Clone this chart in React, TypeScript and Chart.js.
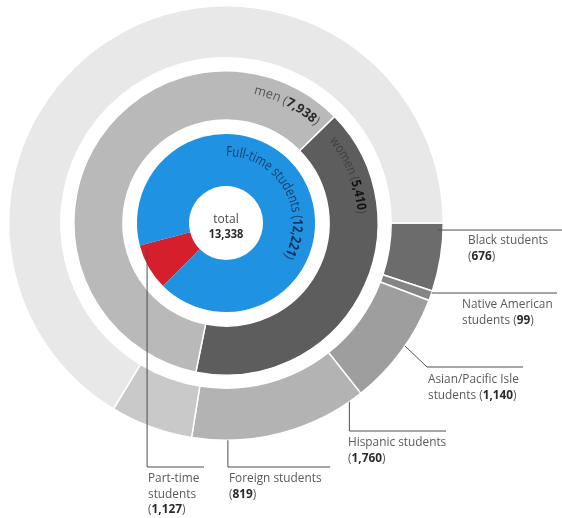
import React, { useEffect, useRef } from 'react';
import { Chart, registerables } from 'chart.js';

Chart.register(...registerables);

// ---------- data ----------
const totalStudents = 13338;
const statusLabels = ['Part-time students', 'Full-time students'];
const statusValues = [1127, 12221];
const genderLabels = ['women', 'men'];
const genderValues = [5410, 7938];
const groupLabels = [
  'Black students',
  'Native American students',
  'Asian/Pacific Isle students',
  'Hispanic students',
  'Foreign students',
  'Other students',
];
const groupValues = [676, 99, 1140, 1760, 819, 8854];

// ---------- styles ----------
const statusColors = ['#d61f2c', '#1f93e2'];
const genderColors = ['#5d5d5d', '#b9b9b9'];
const groupColors = ['#6c6c6c', '#858585', '#9e9e9e', '#b3b3b3', '#c9c9c9', '#e8e8e8'];
const FONT = '"Open Sans", "Noto Sans", sans-serif';
const LABEL_COLOR = '#5a5a5a';
const NUM_COLOR = '#2a2a2a';
const LINE_COLOR = '#4d4d4d';

const fmt = (v: number) => v.toLocaleString('en-US');
const f = (size: number, bold?: boolean) => `${bold ? 700 : 400} ${size}px ${FONT}`;

type Run = { t: string; b?: boolean; c?: string };
const numRuns = (v: number, c?: string): Run[] => [
  { t: '(', c },
  { t: fmt(v), b: true, c },
  { t: ')', c },
];

function drawArcText(
  ctx: CanvasRenderingContext2D,
  cx: number,
  cy: number,
  r: number,
  a0deg: number,
  a1deg: number,
  runs: Run[],
  size: number,
  defColor: string,
  boldColor: string
) {
  const a0 = (a0deg * Math.PI) / 180;
  const a1 = (a1deg * Math.PI) / 180;
  let total = 0;
  for (const run of runs) {
    ctx.font = f(size, run.b);
    for (const ch of run.t) total += ctx.measureText(ch).width;
  }
  const sx = ((a1 - a0) * r) / total;
  let ang = a0;
  ctx.textAlign = 'center';
  ctx.textBaseline = 'alphabetic';
  for (const run of runs) {
    ctx.font = f(size, run.b);
    ctx.fillStyle = run.c || (run.b ? boldColor : defColor);
    for (const ch of run.t) {
      const w = ctx.measureText(ch).width * sx;
      const mid = ang + w / 2 / r;
      ctx.save();
      ctx.translate(cx + r * Math.cos(mid), cy + r * Math.sin(mid));
      ctx.rotate(mid + Math.PI / 2);
      ctx.scale(sx, 1);
      ctx.fillText(ch, 0, 0);
      ctx.restore();
      ang += w / r;
    }
  }
}

function drawRich(
  ctx: CanvasRenderingContext2D,
  x: number,
  y: number,
  runs: Run[],
  size: number,
  sx: number,
  align: 'left' | 'center' = 'left'
) {
  let width = 0;
  for (const run of runs) {
    ctx.font = f(size, run.b);
    width += ctx.measureText(run.t).width * sx;
  }
  let cx = align === 'center' ? x - width / 2 : x;
  ctx.textAlign = 'left';
  ctx.textBaseline = 'alphabetic';
  for (const run of runs) {
    ctx.font = f(size, run.b);
    ctx.fillStyle = run.c || (run.b ? NUM_COLOR : LABEL_COLOR);
    ctx.save();
    ctx.translate(cx, y);
    ctx.scale(sx, 1);
    ctx.fillText(run.t, 0, 0);
    ctx.restore();
    cx += ctx.measureText(run.t).width * sx;
  }
}

// callouts: anchor on a ring (dataset index, angle in degrees, inset from outer edge),
// then a path of horizontal / vertical / point moves, then text lines
type Step = { x?: number; y?: number };
const callouts: {
  ds: number;
  angle: number;
  inset: number;
  path: Step[];
  tx: number;
  ty: number;
  lines: Run[][];
}[] = [
  {
    ds: 0, angle: 1.9, inset: 5, path: [{ x: 562 }], tx: 468, ty: 244,
    lines: [[{ t: 'Black students' }], numRuns(groupValues[0])],
  },
  {
    ds: 0, angle: 18.8, inset: 0, path: [{ x: 557 }], tx: 462, ty: 308,
    lines: [[{ t: 'Native American' }], [{ t: 'students ' }, ...numRuns(groupValues[1])]],
  },
  {
    ds: 0, angle: 34.5, inset: 0, path: [{ x: 427, y: 367 }, { x: 523 }], tx: 428, ty: 383,
    lines: [[{ t: 'Asian/Pacific Isle' }], [{ t: 'students ' }, ...numRuns(groupValues[2])]],
  },
  {
    ds: 0, angle: 55.4, inset: 0, path: [{ y: 431 }, { x: 446 }], tx: 348, ty: 446,
    lines: [[{ t: 'Hispanic students' }], numRuns(groupValues[3])],
  },
  {
    ds: 0, angle: 89.5, inset: 0, path: [{ y: 467 }, { x: 330 }], tx: 229, ty: 482,
    lines: [[{ t: 'Foreign students' }], numRuns(groupValues[4])],
  },
  {
    ds: 4, angle: 161.8, inset: 6, path: [{ y: 467 }, { x: 204 }], tx: 148, ty: 482,
    lines: [[{ t: 'Part-time' }], [{ t: 'students' }], numRuns(statusValues[0])],
  },
];

const annotations = {
  id: 'annotations',
  afterDatasetsDraw(chart: any) {
    const ctx: CanvasRenderingContext2D = chart.ctx;
    const arcOf = (ds: number, i = 0) => chart.getDatasetMeta(ds).data[i];
    ctx.save();

    // curved labels
    const inner = arcOf(4, 1);
    drawArcText(ctx, inner.x, inner.y, 67, -90, 30,
      [{ t: 'Full-time students ' }, ...numRuns(statusValues[1])], 14, '#1b3b68', '#142f57');
    const mid = arcOf(2, 1);
    drawArcText(ctx, mid.x, mid.y, 132, -78, -47.5,
      [{ t: genderLabels[1] + ' ' }, ...numRuns(genderValues[1])], 13, '#555555', '#2a2a2a');
    drawArcText(ctx, mid.x, mid.y, 132, -38.5, -4,
      [{ t: genderLabels[0] + ' ' }, ...numRuns(genderValues[0])], 13, '#404040', '#121212');

    // center total
    drawRich(ctx, inner.x, inner.y, [{ t: 'total', c: '#4a4a4a' }], 13, 0.92, 'center');
    drawRich(ctx, inner.x, inner.y + 15, [{ t: fmt(totalStudents), b: true, c: '#2b2b2b' }], 12.5, 0.88, 'center');

    // leader lines + labels
    ctx.strokeStyle = LINE_COLOR;
    ctx.lineWidth = 1;
    for (const c of callouts) {
      const a = arcOf(c.ds, 0);
      const rad = (c.angle * Math.PI) / 180;
      const r = a.outerRadius - c.inset;
      let px = a.x + r * Math.cos(rad);
      let py = a.y + r * Math.sin(rad);
      ctx.beginPath();
      ctx.moveTo(px, py);
      for (const s of c.path) {
        if (s.x !== undefined) px = s.x;
        if (s.y !== undefined) py = s.y;
        ctx.lineTo(px, py);
      }
      ctx.stroke();
      c.lines.forEach((ln, i) => drawRich(ctx, c.tx, c.ty + i * 15.5, ln, 13, 0.91));
    }
    ctx.restore();
  },
};

export default function App() {
  const ref = useRef<HTMLCanvasElement | null>(null);
  useEffect(() => {
    if (!ref.current) return;
    const spacer = (w: number) => ({
      label: 'gap',
      data: [1],
      backgroundColor: ['rgba(0,0,0,0)'],
      borderWidth: 0,
      hoverBorderWidth: 0,
      weight: w,
    });
    const chart = new Chart(ref.current, {
      type: 'doughnut',
      data: {
        labels: groupLabels,
        datasets: [
          {
            label: 'groups',
            data: groupValues,
            backgroundColor: groupColors,
            borderColor: '#ffffff',
            borderWidth: 1.5,
            hoverBorderWidth: 1.5,
            weight: 52,
            rotation: 90,
          } as any,
          spacer(13),
          {
            label: 'gender',
            data: genderValues,
            backgroundColor: genderColors,
            borderColor: '#ffffff',
            borderWidth: 1.5,
            hoverBorderWidth: 1.5,
            weight: 49,
            rotation: 45.5,
          } as any,
          spacer(14),
          {
            label: 'status',
            data: statusValues,
            backgroundColor: statusColors,
            borderWidth: 0,
            hoverBorderWidth: 0,
            weight: 52,
            rotation: 225,
          } as any,
        ],
      },
      options: {
        responsive: false,
        animation: false,
        events: [],
        cutout: 37,
        layout: { padding: { left: 8, top: 5, right: 118, bottom: 77 } },
        plugins: { legend: { display: false }, tooltip: { enabled: false } },
      },
      plugins: [annotations],
    });
    return () => chart.destroy();
  }, []);
  return (
    <div style={{ position: 'absolute', left: 0, top: 0, width: 562, height: 518, background: '#fff' }}>
      <canvas ref={ref} width={562} height={518} style={{ width: 562, height: 518, display: 'block' }} />
    </div>
  );
}
